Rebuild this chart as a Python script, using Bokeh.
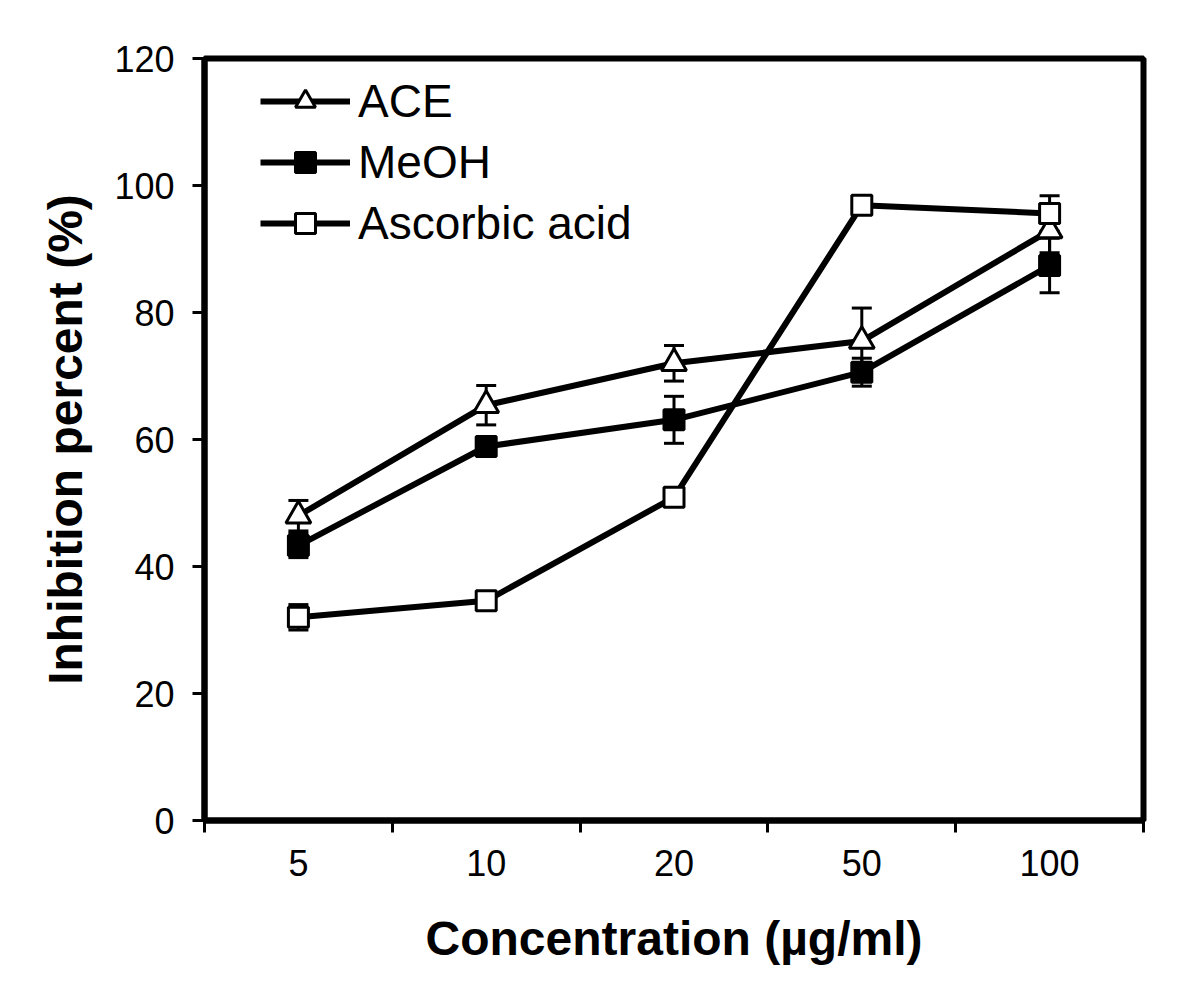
from bokeh.plotting import figure
from bokeh.models import Range1d, FixedTicker, Whisker, TeeHead, ColumnDataSource, Legend, LegendItem
from bokeh.embed import file_html
from bokeh.resources import INLINE

categories = ["5", "10", "20", "50", "100"]
ace = [48.0, 65.4, 72.0, 75.5, 92.9]
ace_err = [2.4, 3.1, 2.8, 5.2, 3.5]
meoh = [43.3, 58.9, 63.1, 70.6, 87.4]
meoh_err = [1.9, 0.8, 3.7, 2.2, 4.3]
asc = [32.0, 34.6, 50.9, 96.9, 95.6]
asc_err = [2.0, 0.5, 0.5, 0.5, 2.8]
y_ticks = [0, 20, 40, 60, 80, 100, 120]
x_title = "Concentration (µg/ml)"
y_title = "Inhibition percent (%)"

FONT = "Liberation Sans"
xpos = list(range(len(categories)))

p = figure(width=1180, height=990, output_backend="svg", toolbar_location=None,
           x_range=Range1d(-0.5, len(categories) - 0.5), y_range=Range1d(0, 120),
           min_border_left=204, min_border_top=58, min_border_right=37, min_border_bottom=170)
p.grid.visible = False
p.background_fill_color = "white"
p.outline_line_color = "black"
p.outline_line_width = 6

def add_series(vals, errs, marker, fill):
    src = ColumnDataSource(dict(x=xpos, y=vals,
                                lo=[v - e for v, e in zip(vals, errs)],
                                hi=[v + e for v, e in zip(vals, errs)]))
    w = Whisker(base="x", lower="lo", upper="hi", source=src, line_color="black", line_width=3,
                upper_head=TeeHead(size=20, line_width=3, line_color="black"),
                lower_head=TeeHead(size=20, line_width=3, line_color="black"))
    p.add_layout(w)
    ln = p.line("x", "y", source=src, line_color="black", line_width=6)
    sz = 25 if marker == "triangle" else 20
    sc = p.scatter("x", "y", source=src, marker=marker, size=sz, fill_color=fill,
                   line_color="black", line_width=3)
    return ln, sc

r_ace = add_series(ace, ace_err, "triangle", "white")
r_meoh = add_series(meoh, meoh_err, "square", "black")
r_asc = add_series(asc, asc_err, "square", "white")

# axes
xa = p.xaxis[0]
xa.ticker = FixedTicker(ticks=xpos, minor_ticks=[i - 0.5 for i in range(len(categories) + 1)])
xa.major_label_overrides = {i: c for i, c in enumerate(categories)}
xa.major_tick_line_color = None
xa.major_tick_out = 12
xa.major_tick_in = 0
xa.minor_tick_out = 12
xa.minor_tick_in = 0
xa.minor_tick_line_width = 3
xa.minor_tick_line_color = "black"
xa.major_label_standoff = 17
xa.axis_line_width = 6
xa.axis_label = x_title
xa.axis_label_standoff = 33

ya = p.yaxis[0]
ya.ticker = FixedTicker(ticks=y_ticks)
ya.major_tick_out = 12
ya.major_tick_in = 0
ya.major_tick_line_width = 3
ya.major_tick_line_color = "black"
ya.minor_tick_line_color = None
ya.major_label_standoff = 18
ya.axis_line_width = 6
ya.axis_label = y_title
ya.axis_label_standoff = 19

for ax in (xa, ya):
    ax.major_label_text_font = FONT
    ax.major_label_text_font_size = "36px"
    ax.major_label_text_color = "black"
    ax.axis_line_color = "black"
    ax.axis_label_text_font = FONT
    ax.axis_label_text_font_size = "48px"
    ax.axis_label_text_font_style = "bold"
    ax.axis_label_text_color = "black"

legend = Legend(items=[
    LegendItem(label="ACE", renderers=list(r_ace)),
    LegendItem(label="MeOH", renderers=list(r_meoh)),
    LegendItem(label="Ascorbic acid", renderers=list(r_asc)),
], location=(56, 570))
legend.label_text_font = FONT
legend.label_text_font_size = "46px"
legend.label_text_color = "black"
legend.glyph_width = 90
legend.glyph_height = 50
legend.label_height = 50
legend.label_standoff = 8
legend.spacing = 7
legend.padding = 0
legend.margin = 0
legend.border_line_color = None
legend.background_fill_alpha = 0
p.add_layout(legend)

open("out.html", "w").write(file_html(p, INLINE))
